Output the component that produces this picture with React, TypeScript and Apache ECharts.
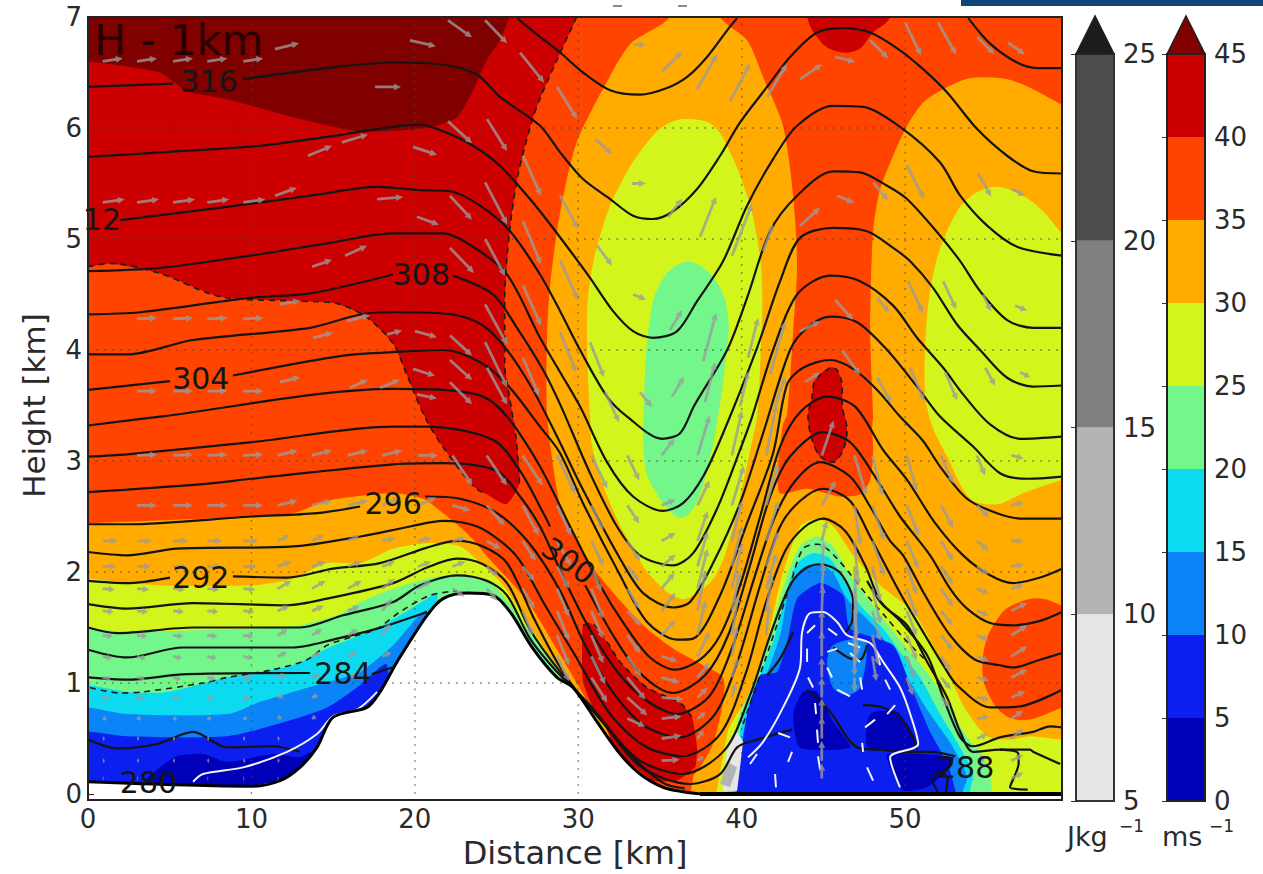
import React, { useEffect, useRef } from "react";
import * as echarts from "echarts";

type P = number[];
const FONT = "DejaVu Sans";

// ---- axis ticks
const GRID_X = [10, 20, 30, 40, 50];
const GRID_Y = [1, 2, 3, 4, 5, 6];
const X_MAX = 59.6;
const Y_MAX = 7;
const CAPE_BANDS = [[5, 10], [10, 15], [15, 20], [20, 25]];
const CAPE_COLORS = ["#e6e6e6", "#b4b4b4", "#808080", "#4d4d4d"];
const WIND_BANDS = [[0, 5], [5, 10], [10, 15], [15, 20], [20, 25], [25, 30], [30, 35], [35, 40], [40, 45]];

// ---- wind speed levels
const C_NAVY = "#0000b8", C_BLUE = "#0a1ff0", C_SKY = "#0a84f7", C_CYAN = "#0cdaf0", C_GREEN = "#74f78a",
  C_LIME = "#d4f51c", C_ORANGE = "#ffab00", C_RED = "#ff4400", C_DARK = "#cc0000", C_MAROON = "#800000";
const WIND_COLORS = [C_NAVY, C_BLUE, C_SKY, C_CYAN, C_GREEN, C_LIME, C_ORANGE, C_RED, C_DARK];

// ---- filled regions, in km (outer points run past the frame and are clipped by it)
const BASE: P[] = [[0, 0], [X_MAX, 0], [X_MAX, 7], [0, 7]];
const R40: P[] = [[-3, 4.75], [0, 4.75], [1.35, 4.78], [4.4, 4.69], [8.1, 4.48], [13, 4.44], [15.2, 4.42], [17.1, 4.29], [18.7, 4.05], [19.5, 3.78], [20.6, 3.4], [21.7, 3.13], [23.6, 2.77], [24.4, 2.7], [25.6, 2.61], [26.4, 2.8], [26.2, 3.2], [25.8, 3.57], [25.5, 3.87], [25.5, 4.47], [25.8, 5.07], [26.3, 5.57], [27.2, 6.08], [27.7, 6.28], [28.5, 6.55], [29.9, 7], [31, 7.5], [-3, 7.5]];
const MAROON: P[] = [[-3, 7.5], [-3, 6.62], [0, 6.6], [4.4, 6.5], [6.06, 6.33], [8.5, 6.26], [12.5, 6.1], [16.6, 5.97], [20.7, 6.0], [22.6, 6.1], [23.6, 6.35], [24.4, 6.61], [25.2, 6.79], [25.8, 7], [26.6, 7.5]];
const TOP_BLOB: P[] = [[43.5, 7.5], [44, 7], [44.61, 6.82], [45.59, 6.7], [47.06, 6.7], [48.04, 6.86], [49.08, 7], [49.8, 7.5]];
const ARCH: P[] = [[36.6, 7.5], [35.6, 7], [33.2, 6.76], [31.8, 6.43], [29.9, 5.87], [28.9, 5.25], [28.3, 4.62], [28.1, 4.17], [28.1, 3.4], [28.9, 2.59], [29.7, 2.35], [31.1, 2.0], [32.7, 1.72], [34.2, 1.49], [35.8, 1.31], [37.64, 1.16], [38.86, 1.05], [38.86, 0.83], [38.25, 0.45], [37.45, 0.24], [37.03, 0.15], [36.9, -0.5], [62, -0.5], [62, 6.05], [59.6, 6.21], [57.83, 6.35], [56.24, 6.44], [53.98, 6.45], [52.33, 6.35], [51.1, 6.23], [50.12, 6.02], [49.27, 5.75], [48.47, 5.45], [48.04, 5.07], [47.86, 4.17], [48.04, 3.4], [47.98, 3.31], [48.04, 3.1], [47.86, 2.83], [47.25, 2.7], [46.02, 2.68], [44, 2.75], [42.35, 2.71], [42.23, 2.95], [42.53, 3.33], [42.78, 3.42], [43.15, 4.17], [43.39, 4.76], [43.15, 5.39], [42.53, 6.02], [41.31, 6.46], [40.33, 6.79], [38.68, 7], [37.9, 7.5]];
const RIGHT_BLOB: P[] = [[58.4, 1.76], [57.22, 1.74], [55.81, 1.61], [54.77, 1.25], [55.2, 0.87], [56.85, 0.67], [59.6, 0.78], [62, 0.95], [62, 1.6], [59.6, 1.7]];
const LIME_CENTRE: P[] = [[36.84, 6.08], [38.25, 6.02], [39.29, 5.78], [40.33, 5.39], [40.94, 5.01], [41.25, 4.59], [41.13, 3.87], [40.94, 3.4], [40.7, 3.22], [40.09, 2.8], [39.47, 2.41], [38.49, 1.99], [37.27, 1.81], [36.23, 1.76], [34.58, 1.94], [33.35, 2.21], [31.95, 2.62], [30.9, 3.1], [30.72, 3.4], [30.54, 4.17], [30.72, 4.62], [31.52, 5.12], [32.74, 5.54], [34.39, 5.9], [35.62, 6.05]];
const GREEN_CENTRE: P[] = [[36.23, 4.78], [37.45, 4.76], [38.68, 4.56], [39.17, 4.29], [39.11, 4.02], [38.56, 3.4], [37.94, 2.95], [37.27, 2.64], [36.41, 2.49], [35.62, 2.55], [34.7, 2.73], [34.09, 2.95], [34.03, 3.58], [34.39, 4.29], [35.01, 4.6]];
const LIME_RIGHT: P[] = [[55.63, 5.47], [57.22, 5.39], [58.45, 5.25], [59.6, 5.05], [62, 4.75], [62, 2.95], [59.6, 2.83], [57.22, 2.71], [55.63, 2.61], [53.98, 2.66], [52.57, 3.04], [51.7, 3.3], [51.22, 3.6], [51.35, 4.32], [51.96, 4.83], [53.18, 5.25], [54.28, 5.41]];
const COLUMN_BLOB: P[] = [[45.41, 3.84], [44.49, 3.73], [44.31, 3.58], [44.06, 3.4], [44.31, 3.19], [44.8, 3.04], [45.59, 2.99], [46.21, 3.1], [46.45, 3.28], [46.15, 3.51], [46.15, 3.67], [45.84, 3.82]];
const VALLEY_RED: P[] = [[30.29, 1.52], [30.72, 1.54], [31.76, 1.37], [32.56, 1.19], [34.2, 0.96], [36.23, 0.82], [36.96, 0.69], [37.27, 0.42], [37.15, 0.24], [36.05, 0.12], [34.58, 0.12], [32.56, 0.36], [31.34, 0.63], [30.29, 1.01], [30.23, 1.34]];
const H30: P[] = [[-3, 2.44], [0, 2.44], [10.04, 2.5], [12.55, 2.53], [14.2, 2.62], [15.24, 2.66], [18.67, 2.71], [20.5, 2.66], [21.73, 2.53], [23.19, 2.35], [24.79, 2.08], [26.87, 1.74], [28.7, 1.3], [30.72, 0.8], [31.95, 0.5], [32, -0.5], [-3, -0.5]];
const H25: P[] = [[-3, 1.95], [0, 1.94], [4.4, 1.88], [10.04, 1.88], [12.55, 1.94], [14.63, 2.08], [16.65, 2.08], [18.67, 2.21], [20.75, 2.26], [22.77, 2.23], [24.17, 2.06], [25.4, 1.88], [26.87, 1.55], [28.7, 1.14], [30.42, 0.79], [30.5, -0.5], [-3, -0.5]];
const H20: P[] = [[-3, 1.5], [0, 1.49], [2.39, 1.46], [10.04, 1.49], [12.97, 1.52], [15.24, 1.61], [16.65, 1.73], [18.67, 1.85], [20.75, 1.94], [22.77, 1.97], [24.79, 1.88], [26.87, 1.49], [28.7, 1.1], [28.8, -0.5], [-3, -0.5]];
const H15: P[] = [[-3, 0.98], [0, 0.98], [2.39, 0.92], [4.83, 0.92], [8.51, 1.05], [12.55, 1.16], [14.63, 1.31], [17.69, 1.49], [19.09, 1.61], [20.75, 1.76], [21.36, 1.81], [21.4, -0.5], [-3, -0.5]];
const H10: P[] = [[-3, 0.78], [0, 0.78], [2.39, 0.72], [8.51, 0.72], [10.53, 0.83], [14.63, 1.01], [16.65, 1.1], [18.67, 1.34], [20.75, 1.64], [20.8, -0.5], [-3, -0.5]];
const H5: P[] = [[-3, 0.56], [0, 0.56], [2.39, 0.52], [8.51, 0.52], [11.57, 0.63], [14.63, 0.78], [16.65, 0.98], [18.3, 1.16], [18.4, -0.5], [-3, -0.5]];
const H0: P[] = [[3.37, 0.09], [4.41, 0.24], [5.45, 0.34], [7.04, 0.36], [8.51, 0.29], [11.32, 0.36], [12.97, 0.33], [13.77, 0.38], [13.77, -0.3], [3.37, -0.3]];
const MOUND_LIME: P[] = [[39.11, 0.54], [40.33, 0.87], [41.55, 1.37], [42.35, 1.9], [43.57, 2.41], [44.61, 2.48], [45.59, 2.41], [46.82, 2.15], [48.47, 1.88], [50.49, 1.64], [51.71, 1.34], [52.57, 1.1], [53.79, 0.74], [55.02, 0.52], [56.42, 0.49], [57.65, 0.52], [59.6, 0.49], [62, 0.49], [62, -0.5], [38.9, -0.5]];
const MOUND_GREEN: P[] = [[39.72, 0.63], [40.94, 1.07], [41.92, 1.55], [42.78, 1.97], [43.57, 2.23], [44.61, 2.32], [45.59, 2.23], [46.63, 1.97], [48.04, 1.7], [49.69, 1.39], [51.22, 1.12], [52.45, 0.85], [53.67, 0.54], [54.9, 0.31], [55.32, 0.03], [55.4, -0.5], [39.7, -0.5]];
const MOUND_CYAN: P[] = [[39.9, 0.56], [40.7, 0.92], [41.92, 1.37], [42.78, 1.85], [43.39, 2.08], [44.37, 2.17], [45.41, 2.12], [46.45, 1.88], [47.25, 1.7], [48.65, 1.49], [49.69, 1.28], [50.92, 1.05], [52.14, 0.72], [53.37, 0.42], [54.16, 0.18], [53.98, 0.03], [54, -0.5], [39.9, -0.5]];
const MOUND_SKY: P[] = [[40.09, 0.54], [41.13, 0.92], [42.35, 1.43], [42.96, 1.88], [43.76, 2.04], [44.8, 2.07], [45.59, 1.99], [46.45, 1.76], [48.04, 1.52], [49.08, 1.31], [50.31, 1.01], [51.53, 0.72], [52.94, 0.42], [53.79, 0.15], [53.55, 0.03], [53.6, -0.5], [40.1, -0.5]];
const MOUND_BLUE: P[] = [[44.8, 1.9], [43.39, 1.76], [42.78, 1.37], [42.17, 1.1], [41.13, 1.07], [40.33, 0.72], [39.72, 0.06], [39.7, -0.5], [53.4, -0.5], [52.75, 0.21], [51.53, 0.56], [50.31, 0.98], [49.27, 1.34], [46.63, 1.49], [46.21, 1.79]];
const SKY_PATCH: P[] = [[45.59, 1.34], [47.25, 1.4], [47.67, 1.34], [47.25, 0.96], [46.45, 0.89], [45.59, 0.96], [45.23, 1.19]];
const NAVY_A: P[] = [[43.76, 0.92], [44.61, 0.92], [45.59, 0.65], [46.63, 0.42], [43.57, 0.42], [43.15, 0.72]];
const NAVY_B: P[] = [[47.86, 0.72], [49.51, 0.74], [50.49, 0.54], [50.73, 0.42], [49.51, 0.38], [47.67, 0.43]];
const NAVY_C: P[] = [[48.9, 0.36], [52.94, 0.33], [52.75, 0.24], [51.35, 0.06], [49.88, 0.03], [49.27, 0.18]];
const PALE_A: P[] = [[39.72, 0.56], [40.09, 0.47], [39.72, 0.03], [38.86, 0.03], [39.11, 0.42]];
const PALE_B: P[] = [[39.11, 0.29], [39.72, 0.24], [39.29, 0.06], [38.68, 0.09]];
const TERRAIN: P[] = [[0, 0.11], [10.04, 0.07], [11.75, 0.12], [12.97, 0.24], [14.01, 0.42], [14.99, 0.69], [17.07, 0.78], [17.87, 0.92], [18.91, 1.19], [20.75, 1.61], [21.73, 1.76], [23.19, 1.81], [24.79, 1.79], [25.83, 1.64], [27.23, 1.31], [28.7, 1.05], [29.68, 0.96], [31.15, 0.65], [32.56, 0.36], [33.78, 0.18], [35.19, 0.06], [36.41, 0.02], [37.45, 0]];
const TERRAIN_FILL: P[] = [...TERRAIN, [0, 0]];
const FLOOR: P[] = [[37.45, 0], [X_MAX, 0]];

// ---- potential temperature contours
const C318A: P[] = [[26.25, 6.99], [27.66, 6.82], [28.89, 6.68], [30.29, 6.5], [31.95, 6.34], [33.78, 6.3], [35.43, 6.36], [36.66, 6.46], [37.88, 6.64], [39.11, 6.88], [39.72, 6.99]];
const C318B: P[] = [[53.86, 6.99], [55.2, 6.76], [56.85, 6.59], [58.08, 6.54], [59.6, 6.54]];
const C316A: P[] = [[0, 6.37], [5.2, 6.4]];
const C316B: P[] = [[9.49, 6.44], [14.63, 6.54], [18.67, 6.59], [21.73, 6.57], [23.81, 6.48], [25.21, 6.28], [27.66, 6.02], [28.89, 5.78], [30.29, 5.54], [31.95, 5.36], [33.35, 5.21], [34.58, 5.18], [35.8, 5.25], [37.27, 5.45], [38.68, 5.75], [39.9, 6.05], [41.55, 6.37], [42.96, 6.64], [44.61, 6.86], [46.21, 6.9], [47.86, 6.86], [49.69, 6.7], [51.1, 6.53], [52.57, 6.32], [54.41, 5.99], [56.24, 5.75], [57.83, 5.61], [59.6, 5.59]];
const C314: P[] = [[0, 5.74], [4.41, 5.78], [10.53, 5.84], [14.63, 5.92], [17.69, 5.99], [20.32, 6.03], [21.73, 5.97], [23.56, 5.84], [25.21, 5.66], [26.87, 5.39], [27.66, 5.25], [29.07, 4.98], [30.72, 4.65], [32.13, 4.35], [33.35, 4.17], [34.58, 4.11], [36.05, 4.17], [37.27, 4.44], [38.86, 4.8], [40.33, 5.3], [41.92, 5.72], [43.39, 6.02], [45.59, 6.2], [47.43, 6.19], [49.69, 6.01], [52.14, 5.69], [53.37, 5.39], [55.02, 5.12], [56.85, 4.93], [59.6, 4.85]];
const C312: P[] = [[1.96, 5.17], [8.51, 5.29], [13.59, 5.39], [17.69, 5.47], [20.32, 5.44], [22.15, 5.43], [23.99, 5.3], [25.83, 5.07], [27.66, 4.68], [28.89, 4.35], [30.11, 4.0], [31.76, 3.58], [32.99, 3.4], [35.13, 3.2], [36.23, 3.25], [37.1, 3.5], [39.11, 4.0], [40.33, 4.47], [41.74, 5.07], [43.39, 5.39], [45.59, 5.61], [47.25, 5.6], [48.9, 5.48], [50.12, 5.36], [52.14, 5.03], [53.37, 4.8], [54.59, 4.53], [56.24, 4.27], [57.83, 4.2], [59.6, 4.2]];
const C310: P[] = [[0, 4.71], [4.41, 4.74], [9.91, 4.85], [14.63, 4.96], [18.67, 5.05], [21.73, 5.05], [23.56, 4.93], [25.64, 4.68], [27.66, 4.11], [28.89, 3.8], [30.11, 3.49], [31.76, 2.99], [33.35, 2.68], [35.19, 2.55], [36.41, 2.62], [37.64, 2.86], [38.86, 3.25], [40.94, 4.02], [42.35, 4.62], [43.57, 5.01], [45.59, 5.1], [47.67, 5.07], [49.27, 4.92], [50.31, 4.8], [51.71, 4.56], [53.18, 4.23], [54.59, 4.0], [56.24, 3.75], [57.83, 3.67], [59.6, 3.68]];
const C308A: P[] = [[0, 4.32], [3.18, 4.34], [9.91, 4.47], [13.59, 4.51], [18.67, 4.68]];
const C308B: P[] = [[22.34, 4.67], [24.79, 4.5], [26.25, 4.2], [27.85, 3.82], [28.89, 3.51], [30.72, 2.89], [32.37, 2.41], [33.78, 2.15], [35.8, 2.06], [37.03, 2.17], [38.49, 2.57], [39.9, 3.1], [40.64, 3.4], [41.92, 4.0], [43.39, 4.5], [45.41, 4.67], [47.25, 4.62], [49.27, 4.4], [50.73, 4.11], [52.33, 3.84], [53.55, 3.6], [55.2, 3.33], [57.04, 3.2], [59.6, 3.22]];
const C306: P[] = [[0, 3.96], [2.39, 3.96], [6.43, 4.09], [13.59, 4.2], [16.65, 4.32], [18.67, 4.34], [22.34, 4.32], [24.17, 4.22], [25.64, 4.0], [27.23, 3.64], [28.7, 3.22], [30.29, 2.74], [32.56, 2.12], [33.97, 1.81], [35.8, 1.68], [36.84, 1.73], [38.25, 2.08], [39.9, 2.62], [41.31, 3.25], [42.96, 4.0], [44, 4.2], [45.41, 4.3], [47.06, 4.25], [48.9, 4.0], [50.73, 3.67], [52.14, 3.4], [54.16, 3.13], [55.81, 2.89], [57.47, 2.84], [59.6, 2.86]];
const C304A: P[] = [[0, 3.64], [5.02, 3.72]];
const C304B: P[] = [[8.87, 3.77], [15.61, 3.95], [18.67, 3.98], [21.73, 4.0], [23.99, 3.89], [25.64, 3.69], [27.66, 3.31], [28.89, 3.07], [30.29, 2.62], [32.56, 1.97], [34.21, 1.55], [36.05, 1.39], [37.03, 1.4], [38.68, 1.79], [40.33, 2.44], [41.92, 3.07], [42.78, 3.69], [43.76, 3.84], [45.41, 3.91], [46.82, 3.83], [48.29, 3.64], [49.69, 3.4], [51.1, 3.18], [52.14, 2.95], [53.79, 2.66], [55.63, 2.53], [57.22, 2.48], [59.6, 2.48]];
const C302: P[] = [[0, 3.32], [4.41, 3.4], [18.67, 3.65], [21.73, 3.64], [24.17, 3.58], [25.64, 3.4], [27.66, 2.95], [29.5, 2.41], [31.33, 1.88], [32.86, 1.52], [34.39, 1.23], [35.92, 1.12], [37.45, 1.21], [38.68, 1.43], [39.9, 1.88], [41.13, 2.5], [42.35, 3.13], [43.57, 3.44], [45.23, 3.58], [46.94, 3.49], [48.65, 3.1], [50.12, 2.83], [51.84, 2.44], [53.55, 2.15], [55.2, 1.97], [56.61, 1.9], [58.26, 1.95], [59.6, 2.03]];
const C300A: P[] = [[0, 3.04], [2.39, 3.06], [10.04, 3.17], [18.67, 3.31], [20.75, 3.31], [24.79, 3.19], [26.44, 2.91], [27.97, 2.5], [28.27, 2.41]];
const C300B: P[] = [[30.42, 1.88], [32.13, 1.43], [33.78, 1.09], [35.8, 0.91], [37.76, 1.07], [39.17, 1.43], [40.51, 2.06], [41.74, 2.68], [42.96, 3.04], [44.98, 3.26], [46.63, 3.17], [48.16, 2.86], [49.69, 2.5], [51.53, 2.15], [52.75, 1.85], [53.79, 1.67], [55.2, 1.54], [56.61, 1.52], [58.26, 1.56], [59.6, 1.64]];
const C298: P[] = [[0, 2.72], [6.85, 2.79], [10.04, 2.84], [18.67, 2.97], [21.73, 2.98], [25.03, 2.91], [26.44, 2.68], [27.66, 2.41], [29.19, 1.92], [30.72, 1.48], [32.56, 1.07], [34.39, 0.82], [36.05, 0.72], [38.07, 0.89], [39.47, 1.34], [40.82, 1.97], [42.04, 2.5], [43.27, 2.82], [44.8, 2.99], [46.63, 2.86], [47.86, 2.59], [49.08, 2.28], [49.88, 2.15], [51.22, 1.79], [52.75, 1.43], [54.28, 1.21], [55.81, 1.16], [56.61, 1.14], [58.26, 1.21], [59.6, 1.27]];
const C296A: P[] = [[0, 2.43], [2.39, 2.43], [10.04, 2.5], [14.01, 2.53], [16.65, 2.59]];
const C296B: P[] = [[20.62, 2.68], [22.77, 2.66], [25.03, 2.53], [27.05, 2.25], [28.89, 1.83], [30.42, 1.34], [32.25, 0.89], [34.09, 0.61], [36.23, 0.51], [38.37, 0.72], [39.78, 1.21], [41.13, 1.88], [42.35, 2.41], [43.57, 2.64], [44.98, 2.75], [46.63, 2.64], [47.86, 2.32], [49.69, 1.81], [51.22, 1.43], [52.33, 1.16], [53.18, 0.98], [55.2, 0.78], [57.04, 0.79], [59.6, 0.94]];
const C294: P[] = [[0, 2.18], [2.39, 2.15], [5.45, 2.21], [12.55, 2.23], [16.65, 2.32], [19.71, 2.41], [21.73, 2.46], [23.81, 2.41], [25.4, 2.26], [26.44, 2.1], [27.97, 1.7], [29.8, 1.25], [31.95, 0.72], [34.09, 0.43], [36.41, 0.34], [38.68, 0.54], [40.21, 1.07], [41.43, 1.7], [42.66, 2.19], [43.88, 2.41], [44.98, 2.48], [46.33, 2.37], [47.55, 2.06], [48.47, 1.74], [49.69, 1.56], [51.35, 1.25], [52.33, 0.87], [53.37, 0.51], [54.16, 0.43], [55.81, 0.51], [57.83, 0.56], [58.87, 0.61], [59.6, 0.6]];
const C292A: P[] = [[0, 1.92], [2.39, 1.9], [5.02, 1.95]];
const C292B: P[] = [[8.87, 1.96], [12.18, 1.95], [14.99, 2.03], [17.87, 2.08], [20.75, 2.22], [22.58, 2.28], [24.17, 2.23], [25.64, 2.08], [27.36, 1.56], [29.19, 1.07], [31.64, 0.62], [33.78, 0.3], [36.41, 0.18], [38.98, 0.4], [40.51, 0.89], [41.74, 1.43], [42.96, 1.88], [43.88, 2.03], [44.8, 2.07], [45.9, 2.01], [46.51, 1.88], [46.82, 1.74], [46.76, 1.56], [46.33, 1.45]];
const C292R: P[] = [[47.67, 1.92], [48.65, 1.7], [50.12, 1.52], [51.35, 1.19], [52.57, 0.87], [53.37, 0.56], [54.16, 0.38], [55.81, 0.4], [57.65, 0.4], [57.83, 0.38], [59.49, 0.27]];
const C290: P[] = [[0, 1.71], [2.39, 1.67], [6.43, 1.72], [12.18, 1.7], [14.63, 1.76], [18.67, 1.9], [20.75, 2.04], [22.58, 2.12], [24.17, 2.07], [25.64, 1.9], [27.05, 1.48], [28.89, 1.1], [31.33, 0.68], [33.78, 0.25], [36.84, 0.09], [38.68, 0.18], [39.72, 0.42], [40.94, 0.49], [43.08, 0.58]];
const C288: P[] = [[0, 1.5], [1.77, 1.45], [6.43, 1.5], [12.97, 1.5], [15.61, 1.61], [18.67, 1.73], [20.32, 1.88], [22.58, 1.97], [24.42, 1.92], [25.64, 1.79], [27.05, 1.4], [28.58, 1.12], [30.72, 0.8], [33.17, 0.36], [35.19, 0.1], [36.5, 0.05]];
const C286: P[] = [[0, 1.3], [2.39, 1.23], [5.81, 1.32], [12.55, 1.32], [15.24, 1.4], [17.69, 1.49], [20.75, 1.64]];
const C284A: P[] = [[0, 1.05], [2.39, 1.03], [6.06, 1.08], [13.59, 1.09]];
const C284B: P[] = [[17.38, 1.08], [18.6, 1.14]];
const C282: P[] = [[0, 0.49], [1.77, 0.41], [4.22, 0.45], [6.43, 0.56], [8.51, 0.42], [11.32, 0.43], [12.97, 0.38]];
const M_A: P[] = [[45.59, 1.32], [46.63, 1.22], [47.25, 1.21], [47.67, 1.34]];
const M_B: P[] = [[44, 0.94], [45.41, 0.74], [46.45, 0.51], [47.06, 0.42], [48.29, 0.4], [50, 0.38], [51.53, 0.38], [53.06, 0.34]];
const M_C: P[] = [[47.43, 0.8], [48.65, 0.78], [49.69, 0.69], [50.49, 0.51], [50.73, 0.4]];
const M_D: P[] = [[55.81, 0.4], [56.91, 0.37], [56.95, 0.28], [56.42, 0.06], [57.5, 0.04]];
const M_E: P[] = [[52, 0.02], [51.7, 0.12], [52.1, 0.2], [52.6, 0.13], [52.5, 0.02]];
const M_F: P[] = [[41.55, 1.07], [42.35, 1.22], [43.15, 1.46]];
const BLACK_LINES = [C318A, C318B, C316A, C316B, C314, C312, C310, C308A, C308B, C306, C304A, C304B, C302, C300A, C300B, C298, C296A, C296B, C294, C292A, C292B, C292R, C290, C288, C286, C284A, C284B, C282, M_A, M_B, M_C, M_D, M_E, M_F];

// ---- white contours and dashed wind contours
const W_A: P[] = [[6.43, 0.11], [7.04, 0.18], [9.49, 0.24], [12.18, 0.38], [14.01, 0.54], [14.99, 0.7], [16.46, 0.76], [17.69, 0.92]];
const W_B: P[] = [[40.39, 0.33], [41.31, 0.47], [42.53, 0.78], [43.57, 1.14], [43.7, 1.46], [44.19, 1.63], [44.98, 1.64], [45.84, 1.55], [46.45, 1.43], [47.86, 1.36], [48.65, 1.19], [49.69, 0.96], [50.31, 0.72], [50.8, 0.45], [49.08, 0.33], [49.69, 0.06]];
const WHITE_DASHES: P[][] = [[[44, 1.31], [44, 1.19]], [[44, 1.45], [44.49, 1.52]], [[45.29, 1.49], [45.84, 1.43]], [[45.23, 1.28], [45.84, 1.31]], [[46.51, 1.36], [47.25, 1.32]], [[46.63, 1.27], [47.25, 1.19]], [[48.29, 1.27], [48.47, 1.16]], [[44.06, 1.05], [44.37, 0.96]], [[45.23, 1.14], [45.53, 1.05]], [[45.84, 0.94], [46.63, 0.88]], [[47.25, 1.05], [47.37, 0.94]], [[48.78, 1.03], [49.08, 0.94]], [[48.9, 0.72], [49.39, 0.8]], [[47.55, 0.6], [48.16, 0.67]], [[44.49, 0.82], [44.55, 0.72]], [[44.61, 0.58], [44.67, 0.46]], [[47.37, 0.46], [47.43, 0.38]], [[44.67, 0.34], [44.8, 0.22]], [[47.67, 0.24], [48.04, 0.12]], [[42.04, 0.18], [42.1, 0.06]], [[43.08, 0.38], [42.84, 0.29]], [[42.23, 0.55], [42.96, 0.51]], [[40.51, 0.27], [40.94, 0.36]]];
const D_LEFT_40: P[] = R40.slice(1, 14);
const D_RIGHT_40: P[] = R40.slice(15, 26);
const D_HILL: P[] = [[0.12, 0.96], [1.96, 0.91], [3.37, 0.92], [7.04, 1.0], [8.51, 1.05], [11.32, 1.12], [13.4, 1.21], [14.63, 1.34], [16.04, 1.41], [17.69, 1.49], [19.09, 1.64], [20.93, 1.79], [22.58, 1.83]];
const D_MOUND: P[] = [[40.09, 0.63], [41.74, 1.34], [42.96, 1.88], [43.76, 2.21], [44.67, 2.25], [45.84, 2.12], [47.67, 1.79], [48.9, 1.58], [49.88, 1.41], [51.35, 1.19]];
const D_COLUMN: P[] = [...COLUMN_BLOB, COLUMN_BLOB[0]];
const D_VALLEY: P[] = VALLEY_RED.slice(0, 7);
const DASHED_LINES = [D_LEFT_40, D_RIGHT_40, D_HILL, D_MOUND, D_COLUMN, D_VALLEY];

// ---- contour labels
const LABEL_TEXTS = ["316", "12", "308", "304", "296", "292", "284", "280", "288", "300"];
const LABEL_X = [7.4, 0.85, 20.4, 6.9, 18.67, 6.9, 15.6, 3.7, 53.7, 29.4];
const LABEL_Y = [6.42, 5.18, 4.68, 3.74, 2.62, 1.95, 1.09, 0.1, 0.24, 2.1];
const LABEL_TILT = [0, 0, 0, 0, 0, 0, 0, 0, 0, -35];

// ---- wind arrows: column positions, then u / w per row (0,0 = no arrow drawn)
const COL_X = [0.9, 3.0, 5.2, 7.3, 9.5, 11.6, 13.7, 15.9, 18, 20.2, 22.3, 24.4, 26.6, 28.7, 30.8, 33, 35.1, 37.3, 39.4, 41.5, 44.9, 46.9, 48, 50.1, 52.2, 54.4, 56.5];
const ROW_Y = [6.6, 5.33, 4.28, 3.63, 3.05, 2.6, 2.28, 2.05, 1.85, 1.65, 1.43, 1.24, 1.05, 0.87, 0.68, 0.5, 0.3, 0.14];
const ROW_U: number[][] = [
  [20, 20, 20, 20, 20],
  [22, 22, 22, 22, 22],
  [0, 20, 20, 20, 20],
  [0, 20, 20, 20, 20],
  [0, 20, 20, 20, 20, 20, 20, 20, 20, 20, 20, 20, 20, 18, 16, 12, 13, 12, 10, 10, 12, 12, 10, 10, 12, 8, 12],
  [0, 20, 20, 20, 20, 20, 20, 20, 18, 18, 18, 18, 16, 14, 12, 12, 14, 12, 12, 12, 14, 6, 12, 12, 12, 12, 12],
  [15, 15, 15, 15, 15, 12, 12, 12, 13, 13, 13, 14, 13, 14, 12, 13, 14, 10, 10, 12, 5, 4, 12, 12, 12, 12, 12],
  [14, 14, 14, 14, 14, 14, 14, 14, 13, 13, 13, 12, 12, 12, 10, 12, 14, 10, 10, 12, 2, 2, 8, 10, 12, 12, 12],
  [12, 12, 12, 12, 12, 14, 14, 14, 13, 13, 12, 10, 12, 12, 12, 12, 13, 10, 10, 10, 2, 2, 8, 10, 12, 12, 12],
  [11, 11, 11, 11, 11, 12, 12, 12, 10, 0, 0, 0, 10, 12, 12, 14, 14, 8, 8, 6, 1, 3, 8, 10, 12, 12, 16],
  [10, 10, 10, 10, 10, 10, 10, 10, 8, 0, 0, 0, 0, 12, 12, 13, 14, 8, 6, 3, 0, 1, 6, 10, 12, 12, 16],
  [9, 9, 9, 9, 9, 9, 9, 9, 9, 0, 0, 0, 0, 12, 14, 14, 16, 12, 5, 0, 0, 0, 4, 8, 10, 12, 16],
  [8, 8, 8, 8, 8, 8, 8, 8, 0, 0, 0, 0, 0, 0, 16, 18, 18, 12, 6, 0, 0, 0, 0, 6, 10, 12, 16],
  [6, 6, 6, 6, 6, 6, 6, 0, 0, 0, 0, 0, 0, 0, 0, 20, 22, 10, 4, 0, 0, 0, 0, 0, 9, 12, 14],
  [4, 4, 4, 4, 4, 4, 4, 0, 0, 0, 0, 0, 0, 0, 0, 18, 20, 8, 0, 0, 0, 0, 0, 0, 0, 12, 12],
  [2, 2, 2, 2, 2, 2, 0, 0, 0, 0, 0, 0, 0, 0, 0, 0, 20, 6, 0, 0, 0, 0, 0, 0, 0, 10, 12],
  [2, 2, 2, 2, 2, 2, 0, 0, 0, 0, 0, 0, 0, 0, 0, 0, 18, 6, 0, 0, 0, 0, 0, 0, 0, 8, 12],
  [1, 1, 1, 1, 1, 1, 0, 0, 0, 0, 0, 0, 0, 0, 0, 0, 0, 0, 0, 0, 0, 0, 0, 0, 0, 0, 12],
];
const ROW_W: number[][] = [
  [3, 3, 3, 3, 3],
  [3, 3, 3, 3, 3],
  [0, 1, 1, 1, 1],
  [0, 0, 0, 0, 0],
  [0, 1, 1, 1, 1, 5, 5, 5, 5, 0, -30, -30, -30, -38, -33, -25, 17, 40, 45, 50, 35, -40, -40, -35, -28, -20, -3],
  [0, 0, 0, 0, 0, 5, 5, 5, 8, 8, -5, -20, -30, -30, -25, -18, 6, 25, 40, 42, 25, -40, -35, -30, -22, -12, 3],
  [0, 0, 0, 0, 0, 6, 6, 6, 3, 3, 3, -8, -20, -25, -25, -20, 8, 30, 40, 40, 20, -45, -35, -28, -20, -10, 0],
  [0, 0, 0, 0, 0, 5, 5, 5, 5, 5, 5, -10, -15, -22, -25, -15, 12, 35, 40, 35, 25, -50, -35, -28, -18, -8, 2],
  [-1, -1, -1, -1, -1, 8, 8, 8, 10, 8, -8, -12, -20, -28, -30, -20, 16, 40, 45, 35, 25, -50, -35, -28, -18, -5, 4],
  [-1, -1, -1, -1, -1, 5, 5, 5, 12, 0, 0, 0, -25, -30, -28, -15, 18, 40, 40, 35, 25, -45, -30, -25, -15, -5, 8],
  [-1, -1, -1, -1, -1, 6, 6, 6, 12, 0, 0, 0, 0, -30, -28, -18, 15, 35, 40, 30, 25, -30, -30, -25, -15, -5, 10],
  [-2, -2, -2, -2, -2, 4, 4, 4, 4, 0, 0, 0, 0, -25, -28, -20, -5, 25, 30, 0, 25, -20, -25, -22, -15, -5, 10],
  [-2, -2, -2, -2, -2, 3, 3, 3, 0, 0, 0, 0, 0, 0, -25, -22, -5, 15, 20, 0, 20, -15, 0, -18, -12, -3, 8],
  [-1, -1, -1, -1, -1, 2, 2, 0, 0, 0, 0, 0, 0, 0, 0, -18, -2, 10, 15, 0, 20, 0, 0, 0, -10, -2, 6],
  [0, 0, 0, 0, 0, 2, 2, 0, 0, 0, 0, 0, 0, 0, 0, -8, 2, 6, 0, 0, 20, 0, 0, 0, 0, 2, 8],
  [0, 0, 0, 0, 0, 0, 0, 0, 0, 0, 0, 0, 0, 0, 0, 0, 3, 8, 0, 0, 22, 0, 0, 0, 0, 4, 10],
  [0, 0, 0, 0, 0, 0, 0, 0, 0, 0, 0, 0, 0, 0, 0, 0, 1, 4, 0, 0, 20, 0, 0, 0, 0, 2, 6],
  [0, 0, 0, 0, 0, 0, 0, 0, 0, 0, 0, 0, 0, 0, 0, 0, 0, 0, 0, 0, 15, 0, 0, 0, 0, 0, 6],
];
const ARROWS_EXTRA: P[] = [
  [11.44, 6.71, 24, 6], [19.7, 6.79, 26, -6], [22.03, 6.97, 24, -17], [24.3, 6.97, 22, -23], [26.44, 6.68, 24, -30], [28.7, 6.37, 20, -32], [31.03, 5.9, 17, -15], [33.35, 6.75, 12, 0], [35.13, 6.51, 20, 20], [37.27, 6.35, 20, 35], [39.29, 6.24, 20, 38], [41.55, 6.28, 20, 33], [43.57, 6.44, 22, 15], [45.72, 6.64, 20, -5], [47.86, 6.79, 18, -18], [50, 6.95, 16, -33], [52.02, 6.95, 18, -32], [54.41, 6.82, 17, -17], [56.3, 6.77, 17, -12], [17.56, 6.37, 26, 0],
  [11.44, 5.39, 22, 8], [13.46, 5.75, 24, 10], [15.54, 5.87, 26, 8], [19.89, 5.83, 24, -8], [17.69, 5.36, 26, 2], [20.13, 5.2, 22, -8], [22.03, 6.06, 24, -22], [24.42, 6.08, 20, -32], [22.15, 5.39, 22, -24], [24.3, 5.51, 22, -42], [26.62, 5.75, 18, -40], [22.15, 4.92, 24, -25], [24.3, 5.0, 20, -37], [26.62, 5.16, 18, -43], [28.89, 5.39, 18, -33], [33.29, 5.5, 14, 0], [35.5, 5.2, 14, 18], [37.45, 5.02, 16, 40], [39.41, 4.85, 20, 52], [41.31, 4.89, 10, 27], [43.57, 5.12, 20, 18], [45.84, 5.39, 17, -7], [48.04, 5.51, 15, -18], [50.12, 5.66, 17, -33], [54.47, 5.59, 13, -23], [56.55, 5.45, 13, -7],
  [15.73, 4.85, 22, 10], [13.71, 4.75, 20, 7], [31.15, 4.94, 15, -20], [28.89, 4.81, 18, -40], [33.35, 4.5, 13, -5], [35.62, 4.18, 12, 20], [37.64, 3.9, 13, 48], [40.39, 3.93, 10, 40], [41.74, 3.78, 15, 53], [43.57, 4.17, 20, 10], [45.72, 4.45, 18, -20], [48.29, 4.47, 12, -15], [50.18, 4.62, 15, -32], [52.33, 4.62, 13, -28], [54.77, 4.5, 8, -17], [56.73, 4.4, 12, -5],
  [11.75, 4.41, 20, 4], [13.77, 4.11, 20, 5], [15.85, 4.26, 23, 6], [18.3, 4.14, 15, 4], [20.01, 4.17, 22, -6], [22.15, 4.13, 22, -20], [24.3, 4.41, 22, -40], [26.62, 4.58, 18, -40],
  [11.75, 3.71, 20, 5], [16.03, 3.66, 18, 8], [17.87, 3.66, 20, 8], [19.89, 3.83, 22, -7], [20.13, 3.6, 20, -4], [22.15, 3.91, 22, -20], [22.15, 3.71, 22, -22], [24.3, 4.07, 22, -45], [24.42, 3.84, 20, -37],
  [26.62, 3.93, 16, -38], [28.89, 4.16, 16, -40], [30.72, 4.07, 14, -35], [31.64, 3.62, 14, -30], [33.78, 3.62, 12, -15], [35.74, 3.58, 12, 20], [37.76, 3.53, 10, 40], [39.9, 3.49, 8, 35], [42.04, 3.49, 10, 30], [43.88, 3.71, 15, 10], [46.14, 4.0, 18, -25], [48.29, 3.75, 14, -25], [50.31, 3.84, 14, -33], [52.45, 3.8, 12, -28], [54.9, 3.84, 10, -18], [57.04, 3.8, 10, -5],
];

const REGIONS: { pts: P[]; color: string; smooth: number }[] = [
  { pts: BASE, color: C_RED, smooth: 0 },
  { pts: R40, color: C_DARK, smooth: 0.2 },
  { pts: MAROON, color: C_MAROON, smooth: 0.2 },
  { pts: TOP_BLOB, color: C_DARK, smooth: 0.4 },
  { pts: ARCH, color: C_ORANGE, smooth: 0.25 },
  { pts: RIGHT_BLOB, color: C_RED, smooth: 0.4 },
  { pts: LIME_CENTRE, color: C_LIME, smooth: 0.4 },
  { pts: GREEN_CENTRE, color: C_GREEN, smooth: 0.4 },
  { pts: LIME_RIGHT, color: C_LIME, smooth: 0.3 },
  { pts: COLUMN_BLOB, color: C_DARK, smooth: 0.4 },
  { pts: VALLEY_RED, color: C_DARK, smooth: 0.15 },
  { pts: H30, color: C_ORANGE, smooth: 0.25 },
  { pts: H25, color: C_LIME, smooth: 0.25 },
  { pts: H20, color: C_GREEN, smooth: 0.25 },
  { pts: H15, color: C_CYAN, smooth: 0.25 },
  { pts: H10, color: C_SKY, smooth: 0.25 },
  { pts: H5, color: C_BLUE, smooth: 0.25 },
  { pts: H0, color: C_NAVY, smooth: 0.25 },
  { pts: MOUND_LIME, color: C_LIME, smooth: 0.25 },
  { pts: MOUND_GREEN, color: C_GREEN, smooth: 0.25 },
  { pts: MOUND_CYAN, color: C_CYAN, smooth: 0.25 },
  { pts: MOUND_SKY, color: C_SKY, smooth: 0.25 },
  { pts: MOUND_BLUE, color: C_BLUE, smooth: 0.2 },
  { pts: SKY_PATCH, color: C_SKY, smooth: 0.3 },
  { pts: NAVY_A, color: C_NAVY, smooth: 0.2 },
  { pts: NAVY_B, color: C_NAVY, smooth: 0.2 },
  { pts: NAVY_C, color: C_NAVY, smooth: 0.2 },
  { pts: PALE_A, color: "#e6e6e6", smooth: 0 },
  { pts: PALE_B, color: "#b4b4b4", smooth: 0 },
  { pts: TERRAIN_FILL, color: "#ffffff", smooth: 0 },
];

function buildArrows(): P[] {
  const out: P[] = [...ARROWS_EXTRA];
  ROW_Y.forEach((y, r) => {
    ROW_U[r].forEach((u, c) => {
      const w = ROW_W[r][c];
      if (u !== 0 || w !== 0) out.push([COL_X[c], y, u, w]);
    });
  });
  return out;
}

function lineSeries(data: P[], color: string, width: number, z: number, extra: any = {}) {
  return {
    type: "line", data, showSymbol: false, symbol: "none", silent: true, smooth: 0.3, clip: true, z,
    lineStyle: { color, width, ...extra }, xAxisIndex: 0, yAxisIndex: 0,
  };
}

function bandSeries(bands: number[][], colors: string[], axis: number) {
  return {
    type: "custom", xAxisIndex: axis, yAxisIndex: axis, silent: true, z: 3,
    data: bands.map((b) => [0, b[0], b[1]]), encode: { x: 0, y: 1 },
    renderItem: (params: any, api: any) => {
      const b = bands[params.dataIndex];
      const p0 = api.coord([0, b[1]]);
      const p1 = api.coord([1, b[0]]);
      return { type: "rect", shape: { x: p0[0], y: p0[1], width: p1[0] - p0[0], height: p1[1] - p0[1] }, style: { fill: colors[params.dataIndex] } };
    },
  };
}

function barAxis(idx: number, min: number, max: number) {
  return {
    gridIndex: idx, type: "value", min, max, interval: 5, position: "right",
    axisLine: { show: false }, splitLine: { show: false },
    axisTick: { show: true, inside: true, length: 5, lineStyle: { color: "#333", width: 1 } },
    axisLabel: { color: "#2a2a2a", fontFamily: FONT, fontSize: 26, margin: 9, verticalAlignMinLabel: "middle", verticalAlignMaxLabel: "middle" },
  };
}

export default function App() {
  const ref = useRef<HTMLDivElement>(null);
  useEffect(() => {
    document.body.style.margin = "0";
    const chart = echarts.init(ref.current!, undefined, { renderer: "svg" });
    const series: any[] = [];
    series.push({
      type: "custom", silent: true, z: 2, clip: true, xAxisIndex: 0, yAxisIndex: 0,
      data: REGIONS.map((r) => [r.pts[0][0], r.pts[0][1]]), encode: { x: 0, y: 1 },
      renderItem: (params: any, api: any) => {
        const r = REGIONS[params.dataIndex];
        return { type: "polygon", shape: { points: r.pts.map((p) => api.coord(p)), smooth: r.smooth }, style: { fill: r.color } };
      },
    });
    GRID_X.forEach((x) => series.push(lineSeries([[x, 0], [x, Y_MAX]], "rgba(70,70,60,0.6)", 1.4, 3, { type: [2, 6] })));
    GRID_Y.forEach((y) => series.push(lineSeries([[0, y], [X_MAX, y]], "rgba(70,70,60,0.6)", 1.4, 3, { type: [2, 6] })));
    BLACK_LINES.forEach((l) => series.push(lineSeries(l, "#141414", 2.2, 4)));
    DASHED_LINES.forEach((l) => series.push(lineSeries(l, "#1a1a1a", 1.6, 4, { type: [6, 5] })));
    series.push(lineSeries(W_A, "#f2f2f8", 2, 4));
    series.push(lineSeries(W_B, "#f2f2f8", 2, 4));
    WHITE_DASHES.forEach((l) => series.push(lineSeries(l, "#f2f2f8", 2, 4)));
    series.push(lineSeries(TERRAIN, "#000000", 3, 5));
    series.push(lineSeries(FLOOR, "#000000", 4, 5));
    const arrows = buildArrows();
    series.push({
      type: "custom", silent: true, z: 6, clip: true, xAxisIndex: 0, yAxisIndex: 0,
      data: arrows, encode: { x: 0, y: 1 },
      renderItem: (params: any, api: any) => {
        const a = arrows[params.dataIndex];
        const p = api.coord([a[0], a[1]]);
        const L = Math.hypot(a[2], a[3]);
        const ux = a[2] / L, uy = -a[3] / L;
        const nx = -uy, ny = ux;
        const head = Math.min(7, L * 0.5);
        const s = 1.4, h = 3.4;
        const b = [p[0] + ux * (L - head), p[1] + uy * (L - head)];
        const e = [p[0] + ux * L, p[1] + uy * L];
        return {
          type: "polygon",
          shape: { points: [[p[0] + nx * s, p[1] + ny * s], [b[0] + nx * s, b[1] + ny * s], [b[0] + nx * h, b[1] + ny * h], e, [b[0] - nx * h, b[1] - ny * h], [b[0] - nx * s, b[1] - ny * s], [p[0] - nx * s, p[1] - ny * s]] },
          style: { fill: "rgba(155,155,155,0.78)" },
        };
      },
    });
    series.push({
      type: "custom", silent: true, z: 7, xAxisIndex: 0, yAxisIndex: 0,
      data: LABEL_TEXTS.map((_, i) => [LABEL_X[i], LABEL_Y[i]]), encode: { x: 0, y: 1 },
      renderItem: (params: any, api: any) => {
        const i = params.dataIndex;
        const p = api.coord([LABEL_X[i], LABEL_Y[i]]);
        return {
          type: "text", x: p[0], y: p[1], rotation: (LABEL_TILT[i] * Math.PI) / 180,
          style: { text: LABEL_TEXTS[i], fontFamily: FONT, fontSize: 30, fill: "#151515", align: "center", verticalAlign: "middle" },
        };
      },
    });
    series.push(bandSeries(CAPE_BANDS, CAPE_COLORS, 1));
    series.push(bandSeries(WIND_BANDS, WIND_COLORS, 2));

    chart.setOption({
      animation: false,
      backgroundColor: "#ffffff",
      grid: [
        { left: 88, top: 17, width: 974, height: 783 },
        { left: 1076, top: 54, width: 38, height: 747 },
        { left: 1167, top: 54, width: 38, height: 747 },
      ],
      xAxis: [
        {
          gridIndex: 0, type: "value", min: 0, max: X_MAX, interval: 10,
          name: "Distance [km]", nameLocation: "middle", nameGap: 43,
          nameTextStyle: { fontFamily: FONT, fontSize: 32, color: "#2a2a2a" },
          axisLine: { show: false }, splitLine: { show: false },
          axisTick: { show: true, inside: true, length: 6, lineStyle: { color: "#222" } },
          axisLabel: { color: "#2a2a2a", fontFamily: FONT, fontSize: 26, margin: 12, showMaxLabel: false, alignMinLabel: "center" },
        },
        { gridIndex: 1, type: "value", min: 0, max: 1, show: false },
        { gridIndex: 2, type: "value", min: 0, max: 1, show: false },
      ],
      yAxis: [
        {
          gridIndex: 0, type: "value", min: 0, max: Y_MAX, interval: 1,
          name: "Height [km]", nameLocation: "middle", nameGap: 39, nameRotate: 90,
          nameTextStyle: { fontFamily: FONT, fontSize: 31, color: "#2a2a2a" },
          axisLine: { show: false }, splitLine: { show: false },
          axisTick: { show: true, inside: true, length: 6, lineStyle: { color: "#222" } },
          axisLabel: { color: "#2a2a2a", fontFamily: FONT, fontSize: 26, margin: 6, verticalAlignMinLabel: "middle", verticalAlignMaxLabel: "middle" },
        },
        barAxis(1, 5, 25),
        barAxis(2, 0, 45),
      ],
      series,
      graphic: [
        { type: "rect", z: 100, shape: { x: 961, y: 0, width: 302, height: 6 }, style: { fill: "#0f4577" } },
        { type: "rect", z: 100, shape: { x: 613, y: 5, width: 9, height: 2 }, style: { fill: "#8a8a8a" } },
        { type: "rect", z: 100, shape: { x: 678, y: 5, width: 9, height: 2 }, style: { fill: "#8a8a8a" } },
        { type: "rect", z: 100, shape: { x: 88, y: 17, width: 974, height: 783 }, style: { fill: "none", stroke: "#222", lineWidth: 2 } },
        { type: "rect", z: 100, shape: { x: 1076, y: 54, width: 38, height: 747 }, style: { fill: "none", stroke: "#333", lineWidth: 2 } },
        { type: "rect", z: 100, shape: { x: 1167, y: 54, width: 38, height: 747 }, style: { fill: "none", stroke: "#222", lineWidth: 2 } },
        { type: "polygon", z: 100, shape: { points: [[1076, 54], [1095, 16], [1114, 54]] }, style: { fill: "#1c1c1c", stroke: "#222", lineWidth: 1.5 } },
        { type: "polygon", z: 100, shape: { points: [[1167, 54], [1186, 16], [1205, 54]] }, style: { fill: "#800000", stroke: "#222", lineWidth: 1.5 } },
        { type: "text", z: 100, x: 94, y: 18, style: { text: "H - 1km", fontFamily: FONT, fontSize: 43, fill: "rgba(25,0,0,0.85)" } },
        { type: "text", z: 100, x: 1067, y: 823, style: { text: "Jkg", fontFamily: FONT, fontSize: 27, fill: "#2a2a2a" } },
        { type: "text", z: 100, x: 1119, y: 817, style: { text: "−1", fontFamily: FONT, fontSize: 17, fill: "#2a2a2a" } },
        { type: "text", z: 100, x: 1162, y: 823, style: { text: "ms", fontFamily: FONT, fontSize: 27, fill: "#2a2a2a" } },
        { type: "text", z: 100, x: 1209, y: 817, style: { text: "−1", fontFamily: FONT, fontSize: 17, fill: "#2a2a2a" } },
      ],
    });
    return () => chart.dispose();
  }, []);
  return <div ref={ref} style={{ position: "absolute", left: 0, top: 0, width: 1263, height: 874 }} />;
}
